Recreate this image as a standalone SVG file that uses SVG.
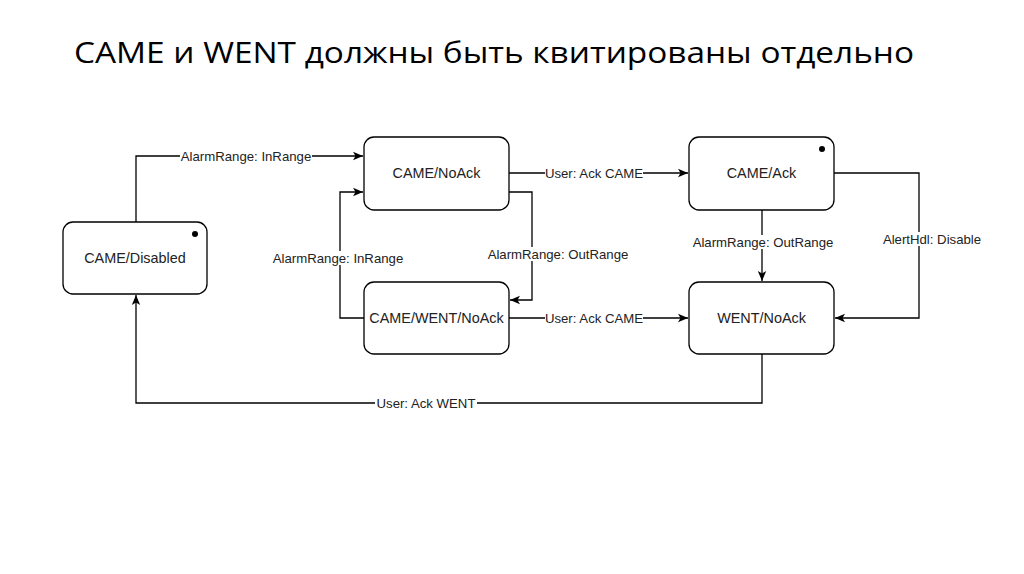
<svg xmlns="http://www.w3.org/2000/svg" width="1024" height="574" viewBox="0 0 1024 574">
<defs>
<marker id="arr" markerUnits="userSpaceOnUse" markerWidth="10" markerHeight="10" viewBox="0 0 10 10" refX="10" refY="5" orient="auto">
<path d="M0,0.8 L10,5 L0,9.2 L2.5,5 Z" fill="#000"/>
</marker>
</defs>
<style>
.node rect{fill:#fff;stroke:#000;stroke-width:1.3}
.node text{font-family:"Liberation Sans",Arial,sans-serif;font-size:14.4px;fill:#222;text-anchor:middle}
.dot{fill:#000}
.edge{fill:none;stroke:#000;stroke-width:1.3;marker-end:url(#arr)}
.lbl rect{fill:#fff}
.lbl text{font-family:"Liberation Sans",Arial,sans-serif;font-size:13.2px;fill:#222;text-anchor:middle}
.title{font-family:"Open Sans","Noto Sans",sans-serif;font-size:29px;fill:#000}
</style>
<rect width="1024" height="574" fill="#fff"/>
<text class="title" x="74" y="63" textLength="840" lengthAdjust="spacingAndGlyphs">CAME и WENT должны быть квитированы отдельно</text>

<g id="connectors">
<path class="edge" d="M136,222 V156 H363"/>
<path class="edge" d="M509,173 H688"/>
<path class="edge" d="M509,192 H532 V300 H510"/>
<path class="edge" d="M364,318 H340 V192 H363"/>
<path class="edge" d="M509,318 H688"/>
<path class="edge" d="M762,210 V281"/>
<path class="edge" d="M834,173 H919 V318 H835"/>
<path class="edge" d="M762,354 V403 H136 V295"/>
<g class="lbl">
<rect x="180" y="149" width="132" height="14"/><text x="246" y="160.7">AlarmRange: InRange</text>
<rect x="545" y="166" width="98" height="14"/><text x="594" y="177.7">User: Ack CAME</text>
<rect x="488" y="247" width="140" height="14"/><text x="558" y="258.7">AlarmRange: OutRange</text>
<rect x="273" y="251" width="131" height="14"/><text x="338" y="262.7">AlarmRange: InRange</text>
<rect x="545" y="311" width="98" height="14"/><text x="594" y="322.7">User: Ack CAME</text>
<rect x="693" y="235" width="140" height="14"/><text x="763" y="246.7">AlarmRange: OutRange</text>
<rect x="883" y="232" width="98" height="14"/><text x="932" y="243.7">AlertHdl: Disable</text>
<rect x="375" y="396" width="102" height="14"/><text x="426" y="407.7">User: Ack WENT</text>
</g>
</g>

<g id="came-disabled" class="node">
<rect x="63" y="222" width="144" height="72" rx="10"/>
<circle class="dot" cx="195" cy="234" r="3"/>
<text x="135" y="263">CAME/Disabled</text>
</g>
<g id="came-noack" class="node">
<rect x="364" y="137" width="145" height="73" rx="10"/>
<text x="436.5" y="178">CAME/NoAck</text>
</g>
<g id="came-went-noack" class="node">
<rect x="364" y="282" width="145" height="72" rx="10"/>
<text x="436.5" y="323">CAME/WENT/NoAck</text>
</g>
<g id="came-ack" class="node">
<rect x="689" y="137" width="145" height="73" rx="10"/>
<circle class="dot" cx="822" cy="149" r="3"/>
<text x="761.5" y="178">CAME/Ack</text>
</g>
<g id="went-noack" class="node">
<rect x="689" y="282" width="145" height="72" rx="10"/>
<text x="761.5" y="323">WENT/NoAck</text>
</g>
</svg>
